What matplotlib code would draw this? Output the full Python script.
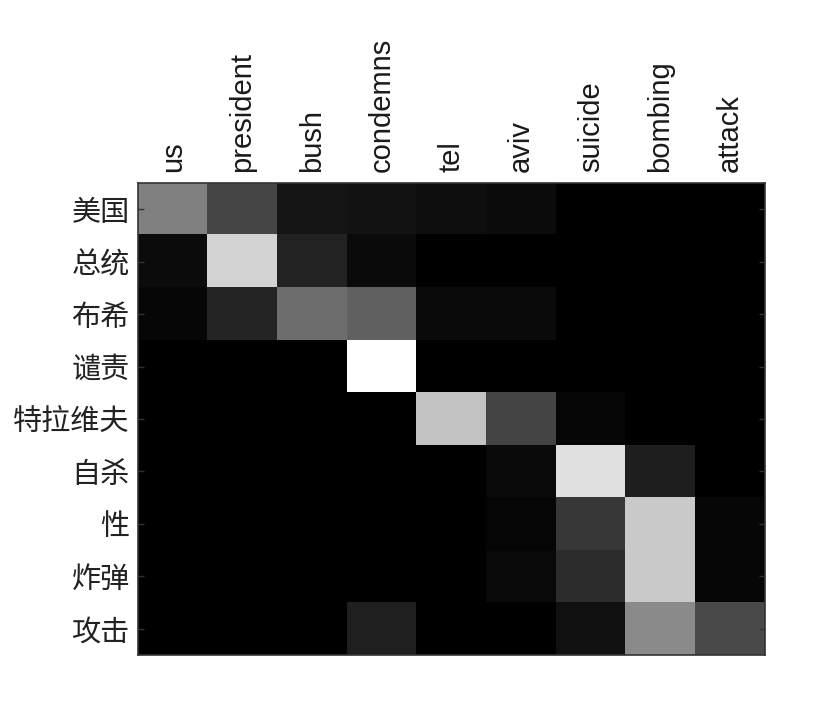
import numpy as np
import matplotlib
matplotlib.use("Agg")
import matplotlib.pyplot as plt

# source words (columns) and target words (rows)
src_words = ["us", "president", "bush", "condemns", "tel", "aviv", "suicide", "bombing", "attack"]
tgt_words = ["美国", "总统", "布希", "谴责", "特拉维夫", "自杀", "性", "炸弹", "攻击"]

# attention weights read from the gray levels (0..255)
row_meiguo = [128, 69, 20, 18, 14, 11, 0, 0, 0]
row_zongtong = [11, 211, 34, 10, 0, 0, 0, 0, 0]
row_buxi = [6, 37, 109, 96, 10, 10, 0, 0, 0]
row_qianze = [0, 0, 0, 255, 0, 0, 0, 0, 0]
row_telaweifu = [0, 0, 0, 0, 195, 67, 6, 0, 0]
row_zisha = [0, 0, 0, 0, 0, 9, 224, 30, 0]
row_xing = [0, 0, 0, 0, 0, 5, 55, 201, 6]
row_zhadan = [0, 0, 0, 0, 0, 9, 44, 201, 6]
row_gongji = [0, 0, 0, 31, 0, 0, 16, 138, 74]

attn = np.array([row_meiguo, row_zongtong, row_buxi, row_qianze, row_telaweifu,
                 row_zisha, row_xing, row_zhadan, row_gongji]) / 255.0

plt.rcParams['font.family'] = ['Liberation Sans', 'Noto Sans CJK SC', 'DejaVu Sans']

fig = plt.figure(figsize=(8.3, 7.12), dpi=100)
ax = fig.add_axes([0.1663, 0.080, 0.7554, 0.663])
ax.imshow(attn, cmap='gray', vmin=0, vmax=1, aspect='auto', interpolation='nearest')

ax.set_xticks(np.arange(len(src_words)))
ax.set_xticklabels(src_words, rotation=90, fontsize=21, color='#1a1a1a')
ax.set_yticks(np.arange(len(tgt_words)))
ax.set_yticklabels(tgt_words, fontsize=21, color='#222222', fontweight='light',
                   family=['Noto Sans CJK SC', 'DejaVu Sans'])
ax.xaxis.tick_top()
ax.tick_params(axis='x', length=0, pad=8)
ax.tick_params(axis='y', direction='in', length=4, width=1, color='#333333',
               left=True, right=True, pad=6)
for s in ax.spines.values():
    s.set_color('#333333')
    s.set_linewidth(1.2)

fig.savefig("out.png", dpi=100)
